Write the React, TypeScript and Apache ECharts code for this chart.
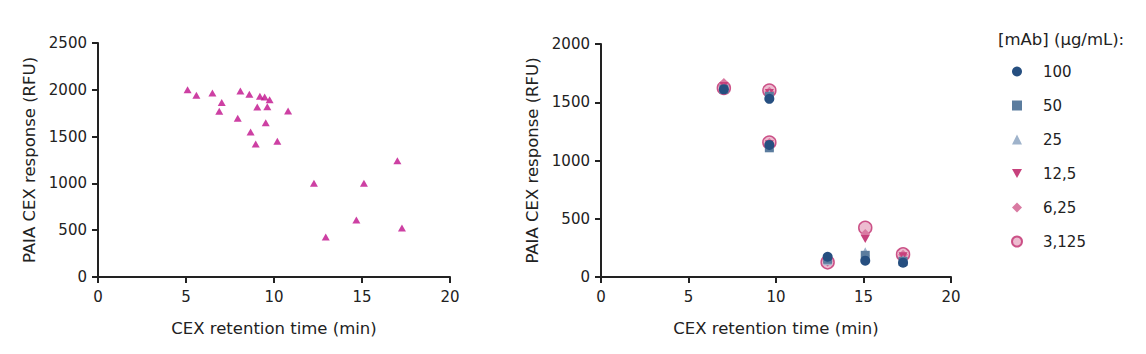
import React, { useEffect, useRef } from "react";
import * as echarts from "echarts";

// Left panel: all samples (retention time, response)
const leftTimes = [5.09, 5.59, 6.5, 7.03, 6.89, 8.09, 8.6, 9.2, 9.47, 9.75, 9.05, 9.62, 7.94, 9.53, 10.8, 8.67, 8.96, 10.19, 12.27, 12.94, 14.68, 15.11, 17.01, 17.27];
const leftResponses = [2001, 1941, 1966, 1863, 1770, 1987, 1952, 1930, 1923, 1895, 1816, 1820, 1695, 1649, 1773, 1549, 1421, 1449, 1001, 427, 609, 1001, 1243, 524];

// Right panel: retention times of the peaks
const rightTimes = [7.02, 9.62, 9.62, 12.95, 15.1, 17.26];
const concentrations = ["100", "50", "25", "12,5", "6,25", "3,125"];
const resp100 = [1611, 1529, 1134, 174, 140, 123];
const resp50 = [1612, 1550, 1109, 152, 186, 135];
const resp25 = [1622, 1568, 1120, 140, 217, 150];
const resp12_5 = [1640, 1580, 1140, 130, 326, 178];
const resp6_25 = [1665, 1590, 1150, 130, 370, 190];
const resp3_125 = [1623, 1600, 1154, 126, 423, 194];

const xTicks = [0, 5, 10, 15, 20];

const FONT = "DejaVu Sans";
const FS = 15;
const NAME_FS = 16.5;
const TEXT = "#222";

export default function App() {
  const ref = useRef<HTMLDivElement>(null);
  useEffect(() => {
    if (!ref.current) return;
    const chart = echarts.init(ref.current, undefined, { renderer: "svg" });
    const pair = (xs: number[], ys: number[]) => xs.map((x, i) => [x, ys[i]]);
    const axisCommon = {
      axisLine: { show: true, lineStyle: { color: TEXT, width: 2 } },
      axisTick: { show: true, length: 6, lineStyle: { color: TEXT, width: 2 } },
      splitLine: { show: false },
      nameTextStyle: { fontFamily: FONT, fontSize: NAME_FS, color: TEXT },
    };
    const xAxisOpt = (gridIndex: number) => ({
      ...axisCommon,
      type: "value",
      gridIndex,
      min: xTicks[0],
      max: xTicks[xTicks.length - 1],
      interval: 5,
      name: "CEX retention time (min)",
      nameLocation: "middle",
      nameGap: 43,
      axisLabel: { fontFamily: FONT, fontSize: FS, color: TEXT, margin: 12 },
    });
    const yAxisOpt = (gridIndex: number, max: number) => ({
      ...axisCommon,
      type: "value",
      gridIndex,
      min: 0,
      max,
      interval: 500,
      name: "PAIA CEX response (RFU)",
      nameLocation: "middle",
      nameGap: 60,
      axisLabel: {
        fontFamily: FONT,
        fontSize: FS,
        color: TEXT,
        margin: 11,
        formatter: (v: number) => String(v),
      },
    });
    const colors: Record<string, string> = {
      "100": "#264f80",
      "50": "#5b7c9e",
      "25": "#9fb3cb",
      "12,5": "#c7417c",
      "6,25": "#d97aa2",
      "3,125": "#ebb5cb",
    };
    const symbols: Record<string, string> = {
      "100": "circle",
      "50": "rect",
      "25": "triangle",
      "12,5": "path://M0,0 L10,0 L5,9 Z",
      "6,25": "diamond",
      "3,125": "circle",
    };
    const sizes: Record<string, number> = {
      "100": 10,
      "50": 9,
      "25": 9,
      "12,5": 9,
      "6,25": 10,
      "3,125": 13,
    };
    const dataMap: Record<string, number[]> = {
      "100": resp100,
      "50": resp50,
      "25": resp25,
      "12,5": resp12_5,
      "6,25": resp6_25,
      "3,125": resp3_125,
    };
    const rightSeries = [...concentrations].reverse().map((c) => ({
      type: "scatter",
      name: c,
      xAxisIndex: 1,
      yAxisIndex: 1,
      symbol: symbols[c],
      symbolSize: sizes[c],
      symbolKeepAspect: true,
      itemStyle:
        c === "3,125"
          ? { color: colors[c], borderColor: "#c7417c", borderWidth: 1.5, opacity: 0.9 }
          : { color: colors[c], opacity: 1 },
      data: pair(rightTimes, dataMap[c]),
    }));
    chart.setOption({
      animation: false,
      textStyle: { fontFamily: FONT },
      grid: [
        { left: 90, top: 35, width: 352, height: 234 },
        { left: 593, top: 36, width: 350, height: 233 },
      ],
      xAxis: [xAxisOpt(0), xAxisOpt(1)],
      yAxis: [yAxisOpt(0, 2500), yAxisOpt(1, 2000)],
      legend: {
        data: concentrations,
        orient: "vertical",
        left: 998,
        top: 51,
        itemWidth: 10,
        itemHeight: 10,
        itemGap: 19,
        textStyle: { fontFamily: FONT, fontSize: FS, color: TEXT, padding: [0, 0, 0, 16] },
        selectedMode: false,
      },
      graphic: [
        {
          type: "text",
          left: 990,
          top: 23,
          style: { text: "[mAb] (µg/mL):", font: `${NAME_FS}px "${FONT}"`, fill: TEXT },
        },
      ],
      series: [
        {
          type: "scatter",
          xAxisIndex: 0,
          yAxisIndex: 0,
          symbol: "triangle",
          symbolSize: [8, 7],
          itemStyle: { color: "#c0108c" },
          data: pair(leftTimes, leftResponses),
        },
        ...rightSeries,
      ],
    });
    return () => chart.dispose();
  }, []);
  return <div ref={ref} style={{ width: 1130, height: 338 }} />;
}
